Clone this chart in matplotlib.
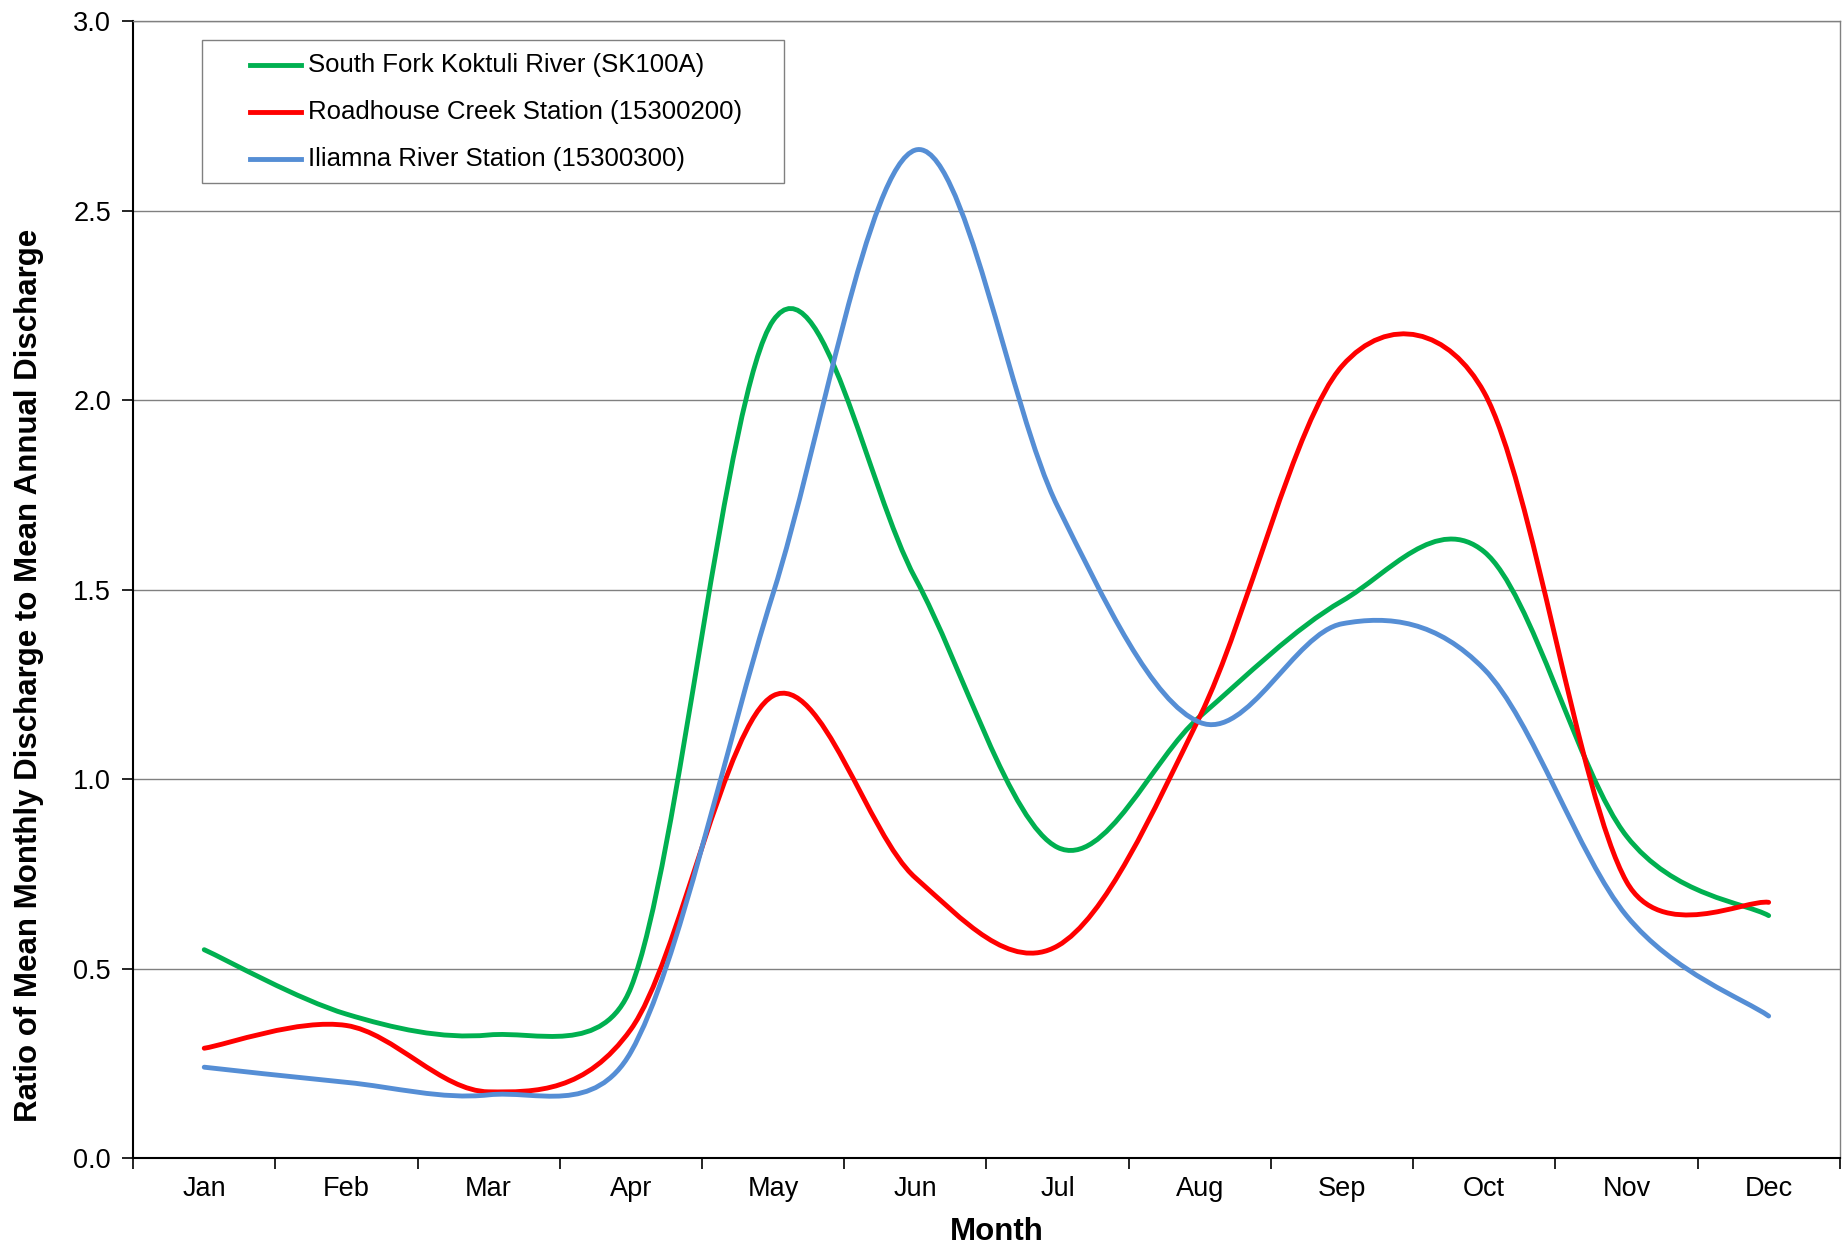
import matplotlib
matplotlib.use("Agg")
import matplotlib.pyplot as plt
from matplotlib.path import Path
from matplotlib.patches import PathPatch, Rectangle
from matplotlib.lines import Line2D

plt.rcParams["font.family"] = ["Liberation Sans", "DejaVu Sans"]

months = ["Jan", "Feb", "Mar", "Apr", "May", "Jun",
          "Jul", "Aug", "Sep", "Oct", "Nov", "Dec"]

koktuli = [0.55, 0.38, 0.325, 0.45, 2.21, 1.53, 0.82, 1.165, 1.47, 1.60, 0.85, 0.64]
roadhouse = [0.29, 0.35, 0.175, 0.34, 1.22, 0.74, 0.56, 1.165, 2.09, 2.02, 0.73, 0.675]
iliamna = [0.24, 0.20, 0.167, 0.28, 1.49, 2.66, 1.72, 1.15, 1.41, 1.29, 0.64, 0.375]

series = [
    ("South Fork Koktuli River (SK100A)", koktuli, "#00b050"),
    ("Roadhouse Creek Station (15300200)", roadhouse, "#ff0000"),
    ("Iliamna River Station (15300300)", iliamna, "#558ed5"),
]


def smooth_path(ax, xs, ys):
    # Excel-like smoothed line: Bezier segments through each point,
    # control offsets of 1/6 the neighbour chord, capped at half the segment
    pts = ax.transData.transform(list(zip(xs, ys)))
    n = len(pts)

    def dist(a, b):
        return ((a[0] - b[0]) ** 2 + (a[1] - b[1]) ** 2) ** 0.5

    verts = [pts[0]]
    codes = [Path.MOVETO]
    for i in range(n - 1):
        p0 = pts[i - 1] if i > 0 else pts[i]
        p1 = pts[i]
        p2 = pts[i + 1]
        p3 = pts[i + 2] if i + 2 < n else pts[i + 1]
        d12 = dist(p1, p2)
        t1 = (p2 - p0) / 6
        t2 = (p3 - p1) / 6
        l1, l2 = dist(t1, 0 * t1), dist(t2, 0 * t2)
        if l1 > d12 / 2:
            t1 = t1 * (d12 / 2) / l1
        if l2 > d12 / 2:
            t2 = t2 * (d12 / 2) / l2
        verts += [p1 + t1, p2 - t2, p2]
        codes += [Path.CURVE4] * 3
    verts = ax.transData.inverted().transform(verts)
    return Path(verts, codes)


fig = plt.figure(figsize=(18.49, 12.48), dpi=100)
ax = fig.add_axes([0.072, 0.072, 0.923, 0.911])
ax.set_xlim(-0.5, 11.5)
ax.set_ylim(0, 3.0)

x = list(range(len(months)))
for label, vals, color in series:
    patch = PathPatch(smooth_path(ax, x, vals), facecolor="none", edgecolor=color,
                      lw=3.5, capstyle="round", joinstyle="round", zorder=3)
    ax.add_patch(patch)

ax.set_yticks([0, 0.5, 1.0, 1.5, 2.0, 2.5, 3.0])
ax.set_yticklabels(["0.0", "0.5", "1.0", "1.5", "2.0", "2.5", "3.0"])
ax.set_xticks([i - 0.5 for i in range(13)])
ax.set_xticklabels([])
ax.set_xticks(x, minor=True)
ax.set_xticklabels(months, minor=True)
ax.tick_params(axis="x", which="minor", length=0, pad=13, labelsize=19.5)
ax.tick_params(axis="x", which="major", length=8, width=1.2, direction="out")
ax.tick_params(axis="y", length=8, width=1.2, direction="out", labelsize=19.5, pad=8)

ax.grid(axis="y", color="#808080", lw=1.0, zorder=0)
ax.set_axisbelow(True)
for side in ["left", "bottom"]:
    ax.spines[side].set_linewidth(1.5)
    ax.spines[side].set_color("black")
for side in ["top", "right"]:
    ax.spines[side].set_linewidth(1.0)
    ax.spines[side].set_color("#808080")

ax.set_xlabel("Month", fontsize=22.5, fontweight="bold")
ax.xaxis.set_label_coords(0.506, -0.052)
ax.set_ylabel("Ratio of Mean Monthly Discharge to Mean Annual Discharge",
              fontsize=22.5, fontweight="bold")
ax.yaxis.set_label_coords(-0.0525, 0.4243)

# legend box drawn by hand, Excel style
ax.add_patch(Rectangle((0.0401, 0.8579), 0.3414, 0.1255, transform=ax.transAxes,
                       facecolor="white", edgecolor="#808080", lw=1.0, zorder=5))
row_y = [0.9617, 0.9202, 0.8787]
for (label, vals, color), yy in zip(series, row_y):
    ax.add_line(Line2D([0.0684, 0.0981], [yy, yy], transform=ax.transAxes,
                       color=color, lw=3.5, zorder=6))
    ax.text(0.1023, yy, label, transform=ax.transAxes, fontsize=18.5,
            va="center", ha="left", zorder=6)

fig.savefig("out.png", dpi=100)
